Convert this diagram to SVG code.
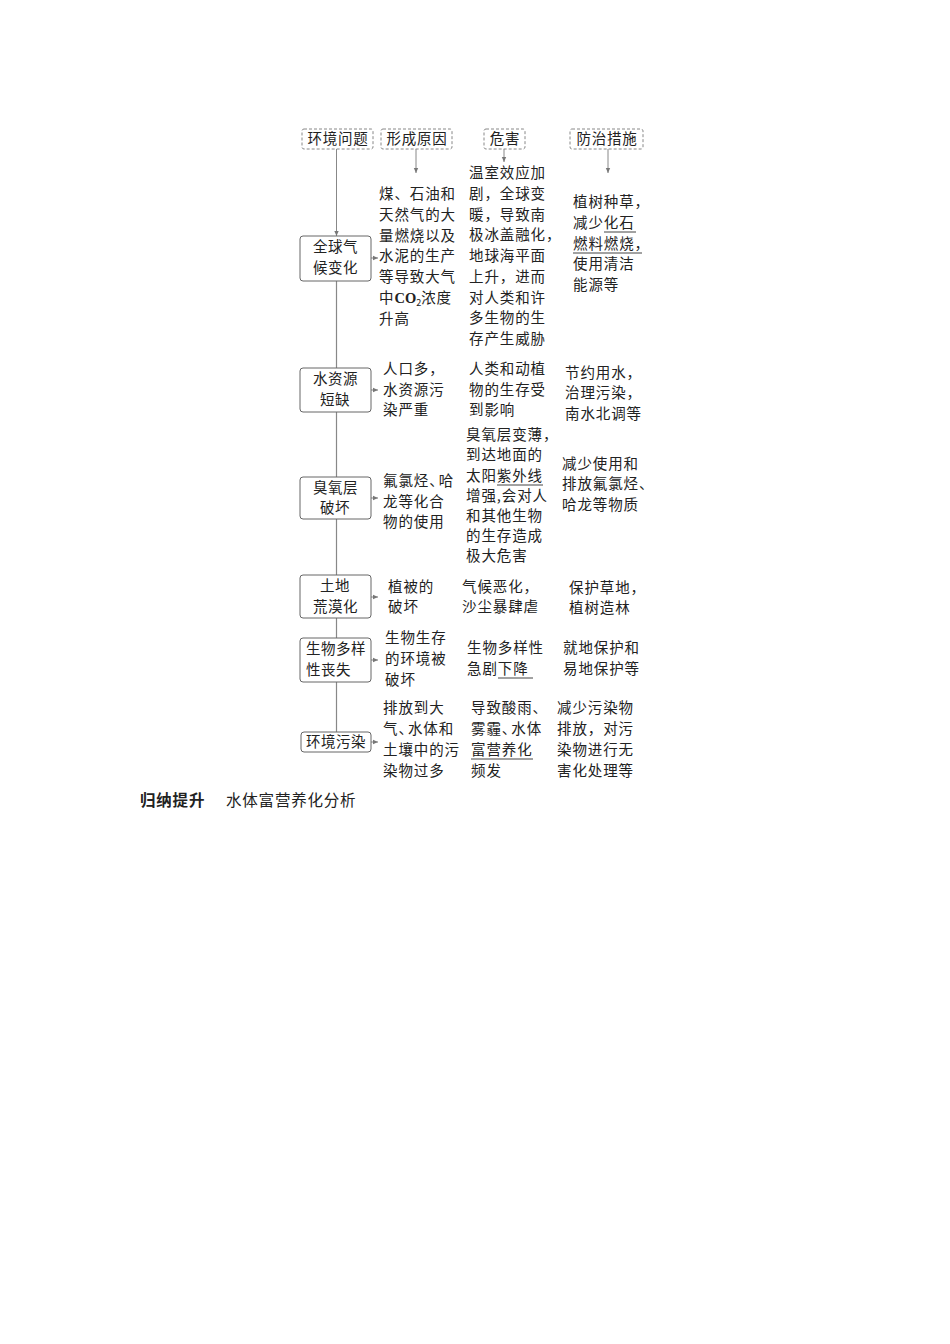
<svg xmlns="http://www.w3.org/2000/svg" width="950" height="1344" viewBox="0 0 950 1344">
<defs>
<marker id="ah" markerWidth="6" markerHeight="6" refX="5" refY="3" orient="auto" markerUnits="userSpaceOnUse">
<path d="M0,0.8 L5,3 L0,5.2 Z" fill="#777"/>
</marker>
<style>
text{font-family:"Noto Sans CJK SC","Noto Sans",sans-serif;fill:#222}
.c{font-size:14.5px;letter-spacing:0.9px}
.b{font-size:14.5px;letter-spacing:0.5px}
.h{font-size:14.5px;letter-spacing:0.7px;text-anchor:middle}
.hd{fill:#fff;stroke:#888;stroke-width:1;stroke-dasharray:3 2}
.nd{fill:#fff;stroke:#666;stroke-width:1}
.ln{stroke:#888;stroke-width:1.2;fill:none}
.ar{stroke:#888;stroke-width:1;fill:none;marker-end:url(#ah)}
.ul{stroke:#444;stroke-width:1}
.n{letter-spacing:-5px}
</style>
</defs>
<rect width="950" height="1344" fill="#fff"/>

<g id="connectors">
<line class="ar" x1="336.5" y1="149" x2="336.5" y2="236"/>
<line class="ln" x1="336.5" y1="281" x2="336.5" y2="732"/>
<line class="ar" x1="416" y1="149" x2="416" y2="173"/>
<line class="ar" x1="504" y1="149" x2="504" y2="162"/>
<line class="ar" x1="608" y1="149" x2="608" y2="173"/>
<line class="ar" x1="371" y1="258" x2="378" y2="258"/>
<line class="ar" x1="371" y1="390" x2="378" y2="390"/>
<line class="ar" x1="371" y1="498" x2="378" y2="498"/>
<line class="ar" x1="371" y1="597" x2="378" y2="597"/>
<line class="ar" x1="371" y1="660" x2="378" y2="660"/>
<line class="ar" x1="371" y1="742" x2="378" y2="742"/>
</g>

<g id="header-problem">
<rect class="hd" x="302" y="129" width="71" height="20" rx="2"/>
<text class="h" x="338" y="144">环境问题</text>
</g>
<g id="header-cause">
<rect class="hd" x="381" y="129" width="71" height="20" rx="2"/>
<text class="h" x="417" y="144">形成原因</text>
</g>
<g id="header-harm">
<rect class="hd" x="484" y="129" width="41" height="20" rx="2"/>
<text class="h" x="505" y="144">危害</text>
</g>
<g id="header-measure">
<rect class="hd" x="570" y="129" width="73" height="20" rx="2"/>
<text class="h" x="607" y="144">防治措施</text>
</g>

<g id="node-climate">
<rect class="nd" x="300" y="236" width="71" height="45" rx="3"/>
<text class="b" x="313" y="252">全球气</text>
<text class="b" x="313" y="273">候变化</text>
<text class="c" x="379" y="199">煤、石油和</text>
<text class="c" x="379" y="220">天然气的大</text>
<text class="c" x="379" y="241">量燃烧以及</text>
<text class="c" x="379" y="261">水泥的生产</text>
<text class="c" x="379" y="282">等导致大气</text>
<text class="c" x="379" y="303">中<tspan font-family="Liberation Serif" font-weight="bold" letter-spacing="0">CO</tspan><tspan font-size="9" dy="3" letter-spacing="0">2</tspan><tspan dy="-3">浓度</tspan></text>
<text class="c" x="379" y="324">升高</text>
<text class="c" x="469" y="178">温室效应加</text>
<text class="c" x="469" y="199">剧，全球变</text>
<text class="c" x="469" y="220">暖，导致南</text>
<text class="c" x="469" y="240">极冰盖融化，</text>
<text class="c" x="469" y="261">地球海平面</text>
<text class="c" x="469" y="282">上升，进而</text>
<text class="c" x="469" y="303">对人类和许</text>
<text class="c" x="469" y="323">多生物的生</text>
<text class="c" x="469" y="344">存产生威胁</text>
<text class="c" x="573" y="207">植树种草，</text>
<text class="c" x="573" y="228">减少化石</text>
<text class="c" x="573" y="249">燃料燃烧，</text>
<text class="c" x="573" y="269">使用清洁</text>
<text class="c" x="573" y="290">能源等</text>
<line class="ul" x1="604" y1="232" x2="636" y2="232"/>
<line class="ul" x1="573" y1="253" x2="642" y2="253"/>
</g>

<g id="node-water">
<rect class="nd" x="300" y="368" width="71" height="44" rx="3"/>
<text class="b" x="313" y="384">水资源</text>
<text class="b" x="320" y="405">短缺</text>
<text class="c" x="383" y="374">人口多，</text>
<text class="c" x="383" y="395">水资源污</text>
<text class="c" x="383" y="415">染严重</text>
<text class="c" x="469" y="374">人类和动植</text>
<text class="c" x="469" y="395">物的生存受</text>
<text class="c" x="469" y="415">到影响</text>
<text class="c" x="565" y="378">节约用水，</text>
<text class="c" x="565" y="398">治理污染，</text>
<text class="c" x="565" y="419">南水北调等</text>
</g>

<g id="node-ozone">
<rect class="nd" x="300" y="477" width="71" height="42" rx="3"/>
<text class="b" x="313" y="493">臭氧层</text>
<text class="b" x="320" y="513">破坏</text>
<text class="c" x="383" y="486">氟氯烃<tspan class="n">、</tspan>哈</text>
<text class="c" x="383" y="507">龙等化合</text>
<text class="c" x="383" y="527">物的使用</text>
<text class="c" x="466" y="440">臭氧层变薄，</text>
<text class="c" x="466" y="460">到达地面的</text>
<text class="c" x="466" y="481">太阳紫外线</text>
<text class="c" x="466" y="501">增强,会对人</text>
<text class="c" x="466" y="521">和其他生物</text>
<text class="c" x="466" y="541">的生存造成</text>
<text class="c" x="466" y="561">极大危害</text>
<line class="ul" x1="497" y1="485" x2="543" y2="485"/>
<text class="c" x="562" y="469">减少使用和</text>
<text class="c" x="562" y="489">排放氟氯烃、</text>
<text class="c" x="562" y="510">哈龙等物质</text>
</g>

<g id="node-desert">
<rect class="nd" x="300" y="575" width="71" height="43" rx="3"/>
<text class="b" x="320" y="591">土地</text>
<text class="b" x="313" y="612">荒漠化</text>
<text class="c" x="388" y="592">植被的</text>
<text class="c" x="388" y="612">破坏</text>
<text class="c" x="462" y="592">气候恶化，</text>
<text class="c" x="462" y="612">沙尘暴肆虐</text>
<text class="c" x="569" y="593">保护草地，</text>
<text class="c" x="569" y="613">植树造林</text>
</g>

<g id="node-biodiversity">
<rect class="nd" x="300" y="638" width="71" height="44" rx="3"/>
<text class="b" x="306" y="654">生物多样</text>
<text class="b" x="306" y="675">性丧失</text>
<text class="c" x="385" y="643">生物生存</text>
<text class="c" x="385" y="664">的环境被</text>
<text class="c" x="385" y="685">破坏</text>
<text class="c" x="467" y="653">生物多样性</text>
<text class="c" x="467" y="674">急剧下降</text>
<line class="ul" x1="498" y1="678" x2="533" y2="678"/>
<text class="c" x="563" y="653">就地保护和</text>
<text class="c" x="563" y="674">易地保护等</text>
</g>

<g id="node-pollution">
<rect class="nd" x="301" y="732" width="70" height="20" rx="3"/>
<text class="b" x="306" y="747">环境污染</text>
<text class="c" x="383" y="713">排放到大</text>
<text class="c" x="383" y="734">气<tspan class="n">、</tspan>水体和</text>
<text class="c" x="383" y="755">土壤中的污</text>
<text class="c" x="383" y="776">染物过多</text>
<text class="c" x="471" y="713">导致酸雨、</text>
<text class="c" x="471" y="734">雾霾<tspan class="n">、</tspan>水体</text>
<text class="c" x="471" y="755">富营养化</text>
<text class="c" x="471" y="776">频发</text>
<line class="ul" x1="471" y1="759" x2="533" y2="759"/>
<text class="c" x="557" y="713">减少污染物</text>
<text class="c" x="557" y="734">排放，对污</text>
<text class="c" x="557" y="755">染物进行无</text>
<text class="c" x="557" y="776">害化处理等</text>
</g>

<g id="footer">
<text x="140" y="806" font-size="15.5" font-weight="bold" letter-spacing="0.8">归纳提升</text>
<text x="226" y="806" font-size="15.5" letter-spacing="0.8">水体富营养化分析</text>
</g>
</svg>
